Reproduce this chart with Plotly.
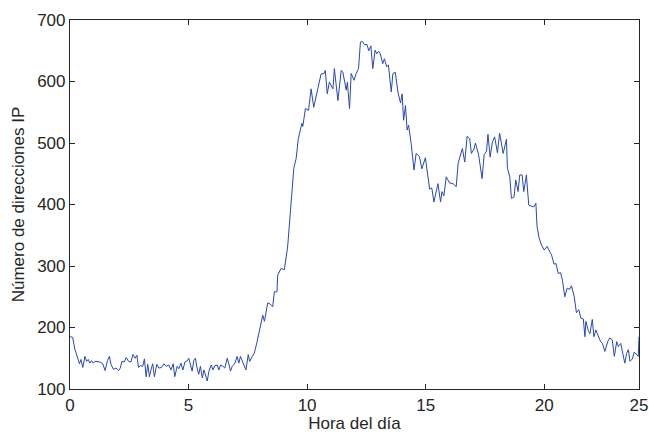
import plotly.graph_objects as go

hours = [
    0.00, 0.11, 0.21, 0.31, 0.40, 0.46, 0.54, 0.63, 0.70, 0.77, 0.84, 0.91, 0.98,
    1.05, 1.15, 1.26, 1.38, 1.48, 1.58, 1.66, 1.73, 1.83, 1.95,
    2.05, 2.12, 2.19, 2.29, 2.37, 2.47, 2.57, 2.65, 2.75, 2.82, 2.89, 2.96,
    3.07, 3.14, 3.21, 3.28, 3.35, 3.42, 3.49, 3.56, 3.66, 3.75, 3.86, 3.96,
    4.06, 4.17, 4.26, 4.35, 4.42, 4.52, 4.59, 4.68, 4.76, 4.85, 4.95,
    5.01, 5.08, 5.15, 5.22, 5.29, 5.36, 5.43, 5.50, 5.58, 5.65, 5.72, 5.79, 5.86, 5.96,
    6.03, 6.11, 6.21, 6.28, 6.35, 6.45, 6.53, 6.63, 6.70, 6.77, 6.84, 6.95,
    7.05, 7.12, 7.19, 7.26, 7.33, 7.42, 7.52, 7.58, 7.69, 7.77, 7.88, 7.99,
    8.13, 8.20, 8.34, 8.45, 8.55, 8.62, 8.73, 8.76, 8.90,
    9.04, 9.18, 9.29, 9.44, 9.54, 9.63, 9.78, 9.82, 9.93,
    10.06, 10.17, 10.28, 10.45, 10.59, 10.71, 10.77, 10.85, 10.94,
    11.09, 11.15, 11.30, 11.44, 11.51, 11.65, 11.70, 11.79, 11.86, 11.98,
    12.07, 12.17, 12.25, 12.34, 12.41, 12.53, 12.60, 12.69, 12.77, 12.87, 12.94,
    13.02, 13.09, 13.19, 13.26, 13.36, 13.43, 13.55, 13.62, 13.72, 13.83, 13.94,
    14.01, 14.07, 14.15, 14.22, 14.28, 14.39, 14.51, 14.60, 14.74, 14.84, 14.99,
    15.17, 15.26, 15.35, 15.52, 15.63, 15.69, 15.77, 15.87,
    16.01, 16.15, 16.29, 16.37, 16.55, 16.65, 16.75, 16.86, 16.93,
    17.04, 17.10, 17.24, 17.38, 17.47, 17.57, 17.63, 17.72, 17.82, 17.91,
    18.03, 18.12, 18.27, 18.41, 18.45, 18.55, 18.62, 18.73, 18.80, 18.90, 18.97,
    19.07, 19.14, 19.25, 19.35, 19.46, 19.56, 19.65, 19.70, 19.79, 19.89,
    20.00, 20.13, 20.20, 20.31, 20.42, 20.50, 20.59, 20.69, 20.77, 20.87, 20.97,
    21.08, 21.15, 21.27, 21.36, 21.46, 21.55, 21.65, 21.72, 21.76, 21.86, 21.93,
    22.03, 22.10, 22.18, 22.28, 22.38, 22.46, 22.56, 22.68, 22.77, 22.87, 22.96,
    23.06, 23.13, 23.23, 23.31, 23.40, 23.48, 23.55, 23.62, 23.72, 23.80, 23.90, 23.97,
    24.00,
]

ip_count = [
    185, 184, 164, 150, 141, 148, 135, 153, 145, 148, 142, 146, 142,
    145, 144, 144, 141, 130, 146, 153, 140, 132, 134,
    130, 134, 145, 144, 151, 145, 144, 156, 150, 155, 135, 138,
    137, 149, 120, 140, 120, 132, 141, 120, 140, 134, 135, 141,
    137, 139, 131, 141, 120, 137, 133, 142, 131, 144, 146,
    150, 141, 129, 146, 150, 134, 124, 137, 118, 131, 123, 113, 129, 139,
    131, 138, 139, 131, 139, 137, 134, 150, 141, 129, 137, 141,
    153, 142, 153, 146, 137, 131, 156, 145, 153, 158, 175, 196,
    220, 210, 240, 238, 234, 258, 258, 285, 296,
    294, 331, 385, 459, 475, 507, 532, 527, 556,
    553, 588, 558, 588, 612, 613, 618, 580, 599,
    588, 621, 569, 618, 615, 586, 599, 556, 613, 602,
    613, 621, 664, 665, 660, 660, 650, 658, 621, 651, 645,
    649, 645, 629, 637, 624, 627, 583, 613, 615, 583, 565,
    580, 537, 561, 521, 529, 499, 456, 483, 478, 458, 476,
    425, 427, 404, 434, 404, 421, 414, 445,
    435, 434, 429, 467, 491, 469, 511, 507, 483,
    490, 500, 480, 442, 481, 487, 514, 477, 502, 510,
    484, 516, 483, 506, 459, 445, 410, 412, 440, 421, 448,
    448, 421, 448, 399, 398, 396, 402, 364, 345, 334,
    326, 332, 326, 318, 303, 304, 288, 289, 277, 250, 264,
    262, 268, 250, 224, 229, 215, 214, 185, 210, 195, 190,
    213, 185, 196, 186, 177, 174, 161, 177, 183, 180, 153,
    177, 169, 174, 156, 142, 158, 164, 145, 149, 160, 156, 153,
    185,
]

x_tick_vals = [0, 5, 10, 15, 20, 24]
x_tick_text = ["0", "5", "10", "15", "20", "25"]
y_tick_vals = [100, 200, 300, 400, 500, 600, 700]

fig = go.Figure()
fig.add_trace(go.Scatter(
    x=hours, y=ip_count, mode="lines",
    line=dict(color="#2a48b0", width=1),
    showlegend=False,
))

font_family = "Liberation Sans, Arial, Helvetica, sans-serif"
axis_common = dict(
    showline=True, linecolor="#262626", linewidth=1.2, mirror="ticks",
    ticks="inside", ticklen=5, tickcolor="#262626", tickwidth=1,
    showgrid=False, zeroline=False, automargin=False,
    tickfont=dict(family=font_family, size=17, color="#262626"),
)

fig.update_layout(
    width=649, height=435,
    margin=dict(l=70, r=10, t=20, b=46),
    paper_bgcolor="white", plot_bgcolor="white",
    xaxis=dict(
        range=[0, 24], tickmode="array", tickvals=x_tick_vals, ticktext=x_tick_text,
        title=dict(text="Hora del día", font=dict(family=font_family, size=17, color="#262626"), standoff=0),
        **axis_common,
    ),
    yaxis=dict(
        range=[100, 700], tickmode="array", tickvals=y_tick_vals,
        title=dict(text="Número de direcciones IP", font=dict(family=font_family, size=17, color="#262626"), standoff=8),
        **axis_common,
    ),
)

fig.write_html(
    "out.html",
    config={"displayModeBar": False},
    post_script="document.body.style.margin='0';document.body.style.padding='0';",
)
